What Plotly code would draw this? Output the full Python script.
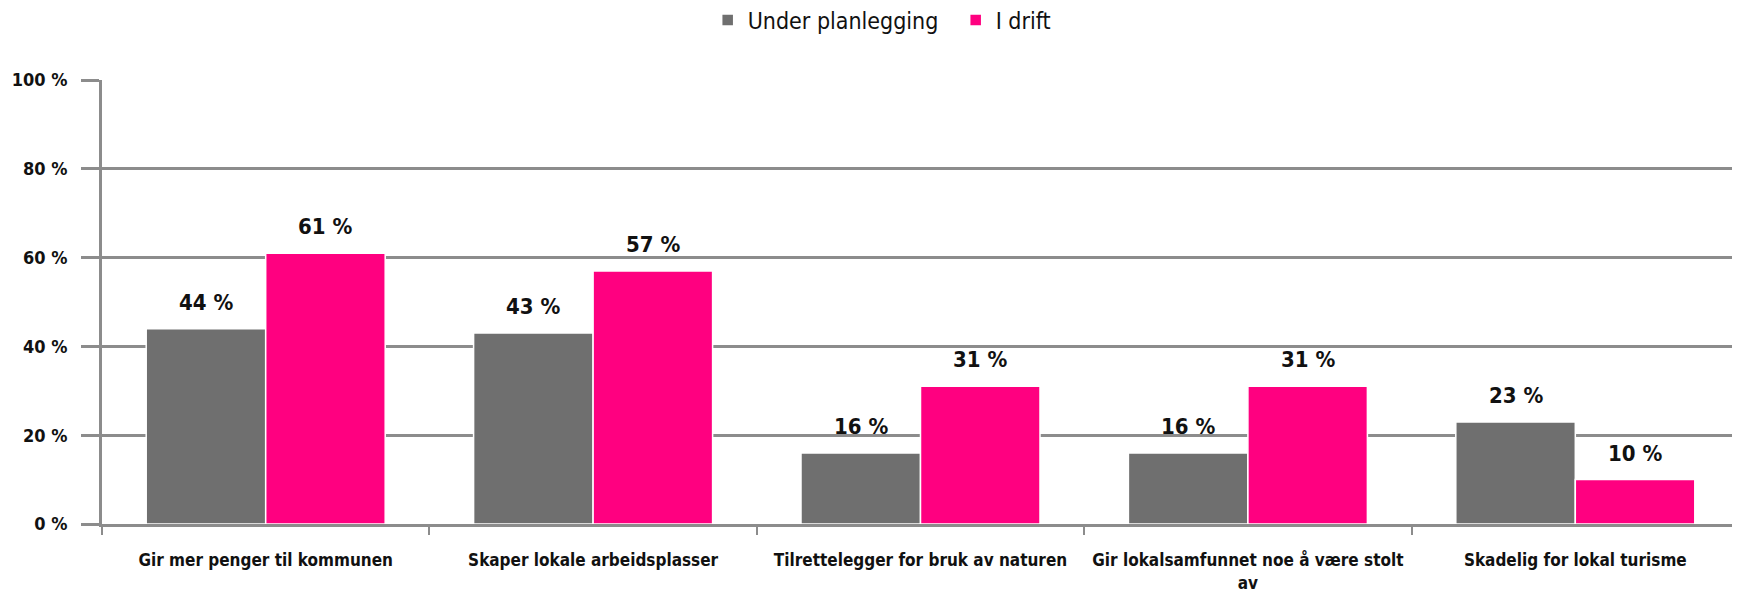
import plotly.graph_objects as go

categories = [
    "Gir mer penger til kommunen",
    "Skaper lokale arbeidsplasser",
    "Tilrettelegger for bruk av naturen",
    "Gir lokalsamfunnet noe å være stolt<br>av",
    "Skadelig for lokal turisme",
]
series_names = ["Under planlegging", "I drift"]
under_planlegging = [44, 43, 16, 16, 23]
i_drift = [61, 57, 31, 31, 10]
colors = ["#6f6f6f", "#ff0080"]
y_ticks = [0, 20, 40, 60, 80, 100]
y_tick_labels = ["0 %", "20 %", "40 %", "60 %", "80 %", "100 %"]

FONT = "Liberation Sans Narrow, DejaVu Sans Condensed, Arial Narrow, sans-serif"
GRID = "#8c8c8c"
BARGAP = 0.27

cat_labels = [f"<b>{c}</b>" for c in categories]

fig = go.Figure()
for name, vals, col in zip(series_names, [under_planlegging, i_drift], colors):
    fig.add_trace(go.Bar(
        x=cat_labels, y=vals, name=name,
        marker=dict(color=col, line=dict(color="white", width=1.5)),
    ))

# value labels above bars
half = (1 - BARGAP) / 4
for k, vals in enumerate([under_planlegging, i_drift]):
    off = -half if k == 0 else half
    for i, v in enumerate(vals):
        fig.add_annotation(
            x=i + off, y=v, xref="x", yref="y", text=f"<b>{v} %</b>",
            showarrow=False, yanchor="bottom", yshift=12,
            font=dict(family=FONT, size=22, color="#111"),
        )

fig.update_layout(
    width=1740, height=594,
    margin=dict(l=94, r=9, t=72, b=78, autoexpand=False),
    paper_bgcolor="white", plot_bgcolor="white",
    barmode="group", bargap=BARGAP, bargroupgap=0,
    font=dict(family=FONT, color="#111"),
    legend=dict(
        orientation="h", x=0.370, xanchor="left", y=1.135, yref="paper",
        yanchor="middle", font=dict(family=FONT, size=23, color="#111"),
        itemwidth=30, traceorder="normal", entrywidth=203,
    ),
    showlegend=True,
)
fig.update_xaxes(
    type="category",
    range=[-0.5, len(categories) - 0.5],
    showline=True, linecolor=GRID, linewidth=3,
    ticks="outside", ticklen=8, tickwidth=2, tickcolor=GRID,
    tickson="boundaries", ticklabelstandoff=19,
    tickfont=dict(family=FONT, size=17, color="#111"),
    showgrid=False, automargin=False,
)
fig.update_yaxes(
    range=[0, 100], tickvals=y_ticks,
    ticktext=[f"<b>{t}</b>" for t in y_tick_labels],
    showgrid=True, gridcolor=GRID, gridwidth=3,
    showline=True, linecolor=GRID, linewidth=3,
    ticks="outside", ticklen=18, tickwidth=3, tickcolor=GRID,
    ticklabelstandoff=10,
    tickfont=dict(family=FONT, size=18, color="#111"),
    zeroline=False, automargin=False,
)
fig.write_html("out.html")
